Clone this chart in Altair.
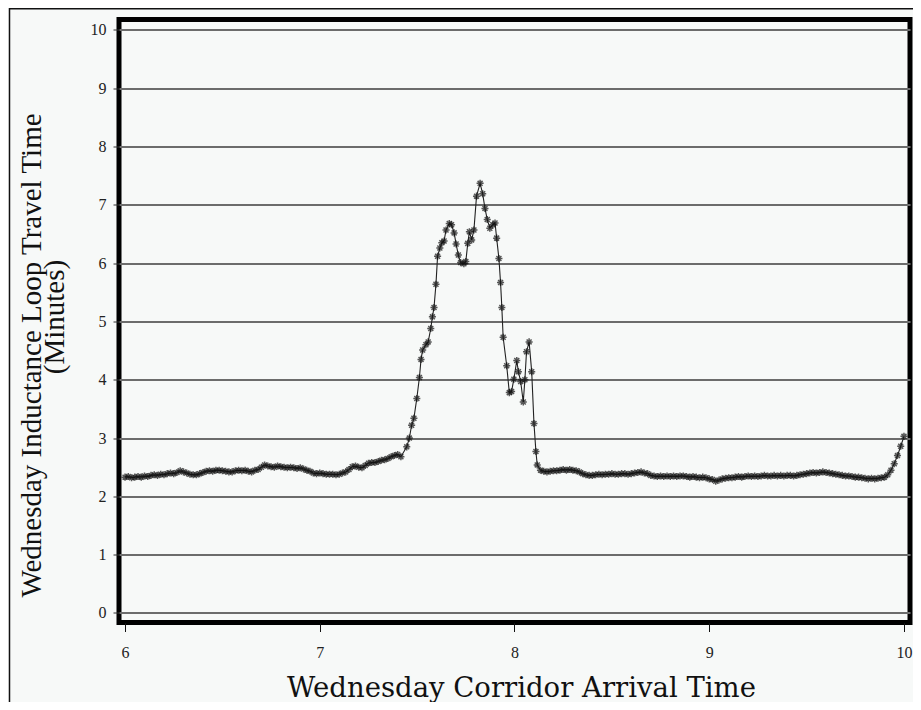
import altair as alt
import pandas as pd

# minutes after 6:00 and travel time (minutes)
base_am_vals = [
    2.33, 2.34, 2.32, 2.33, 2.34, 2.33, 2.35, 2.34, 2.36, 2.37,
    2.36, 2.38, 2.37, 2.39, 2.40, 2.39, 2.41, 2.44, 2.42, 2.40,
    2.38, 2.37, 2.37, 2.39, 2.41, 2.43, 2.44, 2.43, 2.45, 2.45,
    2.44, 2.43, 2.42, 2.42, 2.44, 2.45, 2.44, 2.45, 2.43, 2.42,
    2.45, 2.46, 2.50, 2.54, 2.52, 2.51, 2.50, 2.52, 2.51, 2.50,
    2.49, 2.50, 2.49, 2.48, 2.49, 2.47, 2.45, 2.43, 2.40, 2.39,
    2.40, 2.39, 2.38, 2.38, 2.38, 2.37, 2.38, 2.40, 2.42, 2.46,
    2.51, 2.52, 2.50, 2.49, 2.53, 2.57, 2.58, 2.58, 2.60, 2.62,
    2.63, 2.65, 2.68, 2.70, 2.72, 2.68,
]
base_am_min = list(range(0, 86))

peak_min = [
    86.8, 87.6, 88.3, 89.0, 89.9, 90.7, 91.2, 91.7, 92.7, 93.4,
    94.2, 94.7, 95.2, 95.8, 96.3, 97.0, 97.6, 98.3, 98.9, 99.9,
    100.6, 101.4, 102.0, 102.7, 103.4, 104.4, 105.0, 105.6, 106.1, 106.8,
    107.5, 108.3, 109.4, 110.2, 110.9, 111.6, 112.4, 113.3, 114.0, 114.5,
    115.2, 115.7, 116.1, 116.5, 117.6, 118.4, 119.1, 119.8, 120.7, 121.2,
    121.9, 122.7, 123.2, 123.7, 124.5, 125.3, 126.0, 126.6, 127.0,
]
peak_vals = [
    2.85, 3.00, 3.22, 3.34, 3.68, 4.04, 4.35, 4.51, 4.60, 4.65,
    4.88, 5.08, 5.24, 5.64, 6.12, 6.26, 6.35, 6.38, 6.57, 6.68,
    6.66, 6.52, 6.33, 6.14, 6.01, 5.99, 6.03, 6.34, 6.54, 6.40,
    6.57, 7.15, 7.37, 7.19, 6.94, 6.75, 6.60, 6.66, 6.69, 6.43,
    6.08, 5.67, 5.24, 4.73, 4.24, 3.78, 3.80, 4.01, 4.33, 4.14,
    3.97, 3.62, 4.00, 4.48, 4.65, 4.14, 3.25, 2.77, 2.54,
]

base_pm_min = list(range(128, 241))
base_pm_vals = [
    2.45, 2.43, 2.42, 2.43, 2.44, 2.44, 2.45, 2.46, 2.45, 2.46, 2.45, 2.44,
    2.42, 2.39, 2.37, 2.36, 2.36, 2.37, 2.38, 2.37, 2.38, 2.38,
    2.39, 2.38, 2.38, 2.39, 2.39, 2.38, 2.39, 2.40, 2.41, 2.42,
    2.40, 2.39, 2.36, 2.35, 2.34, 2.35, 2.34, 2.35, 2.34, 2.35,
    2.34, 2.35, 2.35, 2.34, 2.33, 2.34, 2.33, 2.32, 2.33, 2.32,
    2.30, 2.29, 2.26, 2.28, 2.30, 2.31, 2.32, 2.32, 2.33, 2.34,
    2.33, 2.34, 2.35, 2.34, 2.35, 2.34, 2.35, 2.36, 2.35, 2.35,
    2.36, 2.35, 2.36, 2.35, 2.36, 2.36, 2.35, 2.36, 2.37, 2.38,
    2.39, 2.40, 2.41, 2.40, 2.41, 2.42, 2.41, 2.40, 2.39, 2.38,
    2.37, 2.36, 2.35, 2.35, 2.34, 2.33, 2.33, 2.32, 2.31, 2.30,
    2.31, 2.30, 2.31, 2.32, 2.33, 2.37, 2.45, 2.56, 2.70, 2.86, 3.03,
]

x_ticks = [6 + 0.25 * i for i in range(17)]
y_ticks = list(range(0, 11))

x_title = "Wednesday Corridor Arrival Time"
y_title_1 = "Wednesday Inductance Loop Travel Time"
y_title_2 = "(Minutes)"

minutes = base_am_min + peak_min + base_pm_min
values = base_am_vals + peak_vals + base_pm_vals
df = pd.DataFrame({"t": [6 + m / 60 for m in minutes], "v": values})

FONT = "Liberation Serif"
ASTERISK = "M-1,0L1,0M0,-1L0,1M-0.7,-0.7L0.7,0.7M-0.7,0.7L0.7,-0.7"

x_enc = alt.X(
    "t:Q",
    scale=alt.Scale(domain=[5.969, 10.031], nice=False, zero=False),
    axis=alt.Axis(
        values=x_ticks, format="d",
        labelExpr="datum.value % 1 == 0 ? datum.label : ''",
        grid=False, domain=False, tickSize=9, tickColor="#111", tickWidth=1,
        labelFont=FONT, labelFontSize=16, labelColor="#222", labelPadding=13,
        title=x_title, titleFont="DejaVu Serif",
        titleFontSize=27.5, titleFontWeight="normal", titleColor="#111",
        titleX=402, titleY=73.5, titleBaseline="alphabetic", titleAnchor="middle",
    ),
)
y_enc = alt.Y(
    "v:Q",
    scale=alt.Scale(domain=[-0.163, 10.18], nice=False, zero=False),
    axis=alt.Axis(
        values=y_ticks, format="d",
        grid=True, gridColor="#6c6c6c", gridWidth=1.8,
        domain=False, tickSize=6, tickColor="#333", tickWidth=1,
        labelFont=FONT, labelFontSize=16, labelColor="#222", labelPadding=7,
        title=y_title_1,
        titleFont=FONT, titleFontSize=29, titleFontWeight="normal",
        titleColor="#111",
        titleAngle=270, titleX=-88, titleY=335.5,
        titleBaseline="middle", titleAnchor="middle",
    ),
)

line = alt.Chart(df).mark_line(color="#222", strokeWidth=1.1).encode(x=x_enc, y=y_enc)
pts = alt.Chart(df).mark_point(
    shape=ASTERISK, filled=False, color="#111", size=50, strokeWidth=1.5
).encode(x="t:Q", y="v:Q")

sub_title = alt.Chart(pd.DataFrame({"s": [y_title_2]})).mark_text(
    font=FONT, fontSize=29, angle=270, align="center", baseline="middle", color="#111"
).encode(x=alt.value(-64), y=alt.value(297.5), text="s:N")

frame_left = alt.Chart(pd.DataFrame({"k": [0]})).mark_rule(color="#111", strokeWidth=1.5).encode(
    x=alt.value(-109.5), y=alt.value(-11.5), y2=alt.value(690)
)
frame_top = alt.Chart(pd.DataFrame({"k": [0]})).mark_rule(color="#111", strokeWidth=1.5).encode(
    x=alt.value(-110), x2=alt.value(795), y=alt.value(-10.8)
)

chart = (
    alt.layer(line, pts, sub_title, frame_left, frame_top)
    .properties(
        width=791, height=603,
        autosize=alt.AutoSizeParams(type="none"),
        padding={"left": 111, "top": 11.5, "right": 3, "bottom": 79.5},
        background="#f7f9f8",
    )
    .configure_view(stroke="black", strokeWidth=5, fill="#f7f9f8")
)

chart.save("out.html", embed_options={"renderer": "svg", "actions": False})
